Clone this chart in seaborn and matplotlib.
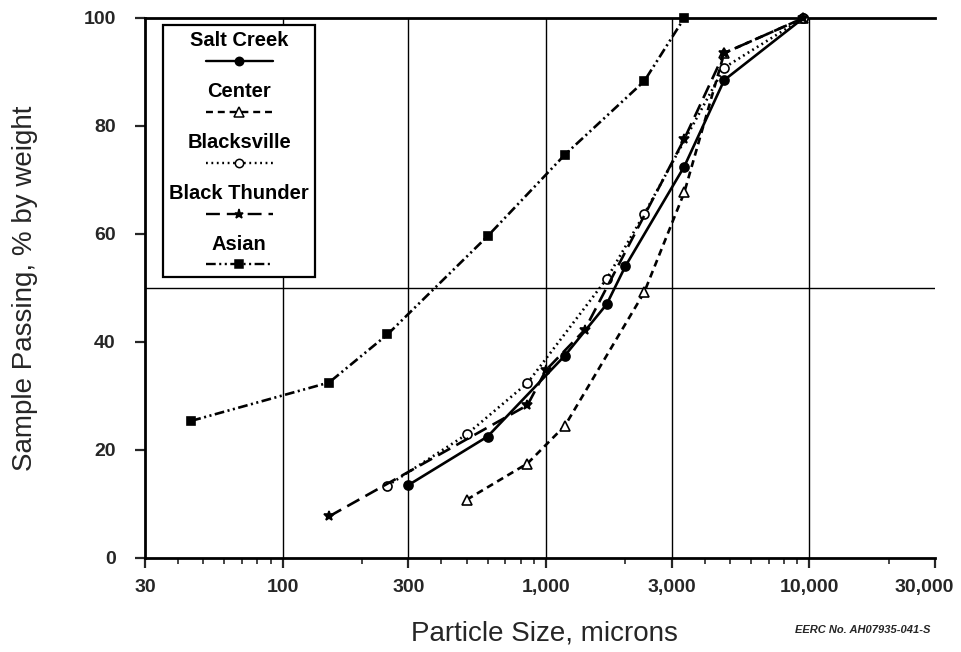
import matplotlib
matplotlib.use("Agg")
import matplotlib.pyplot as plt
import matplotlib.transforms as mtransforms
import seaborn as sns
from matplotlib.lines import Line2D
from matplotlib.offsetbox import AnchoredOffsetbox, VPacker, TextArea, DrawingArea
from matplotlib.ticker import FixedLocator, FixedFormatter, LogLocator, NullFormatter

# sieve sizes (microns) and cumulative % passing
salt_creek_size = [300, 600, 1180, 1700, 2000, 3350, 4750, 9500]
salt_creek_pass = [13.5, 22.5, 37.5, 47, 54, 72.5, 88.5, 100]

center_size = [500, 850, 1180, 2360, 3350, 4750, 9500]
center_pass = [10.8, 17.5, 24.5, 49.2, 67.7, 93.5, 100]

blacksville_size = [250, 500, 850, 1700, 2360, 4750, 9500]
blacksville_pass = [13.4, 22.9, 32.4, 51.7, 63.7, 90.8, 100]

black_thunder_size = [150, 850, 1000, 1400, 3350, 4750, 9500]
black_thunder_pass = [7.7, 28.3, 34.8, 42.2, 77.6, 93.5, 100]

asian_size = [45, 150, 250, 600, 1180, 2360, 3350]
asian_pass = [25.4, 32.5, 41.4, 59.6, 74.7, 88.3, 100]

x_ticks = [30, 100, 300, 1000, 3000, 10000, 30000]
x_tick_labels = ["30", "100", "300", "1,000", "3,000", "10,000", "30,000"]
y_ticks = [0, 20, 40, 60, 80, 100]

sns.set_style("ticks")
plt.rcParams["font.family"] = ["Liberation Sans", "DejaVu Sans"]
plt.rcParams["lines.scale_dashes"] = False

LW = 1.9
series = [
    ("Salt Creek", salt_creek_size, salt_creek_pass,
     dict(linestyle="-", marker="o", markerfacecolor="black", markersize=6.5)),
    ("Center", center_size, center_pass,
     dict(linestyle=(0, (5, 3.5)), marker="^", markerfacecolor="white", markersize=7)),
    ("Blacksville", blacksville_size, blacksville_pass,
     dict(linestyle=(0, (1.3, 2.6)), marker="o", markerfacecolor="white", markersize=6.5)),
    ("Black Thunder", black_thunder_size, black_thunder_pass,
     dict(linestyle=(0, (10, 5)), marker="*", markerfacecolor="black", markersize=7)),
    ("Asian", asian_size, asian_pass,
     dict(linestyle=(0, (7, 2.5, 1.5, 2.5, 1.5, 2.5)), marker="s", markerfacecolor="black", markersize=6)),
]

fig = plt.figure(figsize=(9.62, 6.52), dpi=100)
ax = fig.add_axes([145 / 962, 94 / 652, 790 / 962, 540 / 652])

# gridlines: verticals at the inner major ticks, one horizontal at 50 %
for xv in x_ticks[1:-1]:
    ax.axvline(xv, color="black", lw=1.0, zorder=1)
ax.axhline(50, color="black", lw=1.0, zorder=1)

for name, xs, ys, st in series:
    sns.lineplot(x=xs, y=ys, ax=ax, color="black", linewidth=LW,
                 markeredgecolor="black", markeredgewidth=1.2,
                 clip_on=False, zorder=3, **st)

ax.set_xscale("log")
ax.set_xlim(30, 30000)
ax.set_ylim(0, 100)

ax.xaxis.set_major_locator(FixedLocator(x_ticks))
ax.xaxis.set_major_formatter(FixedFormatter(x_tick_labels))
ax.xaxis.set_minor_locator(LogLocator(base=10, subs=range(2, 10)))
ax.xaxis.set_minor_formatter(NullFormatter())
ax.set_yticks(y_ticks)

ax.tick_params(axis="both", which="major", direction="out", length=7, width=1.6,
               labelsize=14)
ax.tick_params(axis="x", which="major", pad=8)
ax.tick_params(axis="y", which="major", pad=14)
ax.tick_params(axis="x", which="minor", direction="out", length=4, width=1.2)
for lab in ax.get_xticklabels() + ax.get_yticklabels():
    lab.set_fontweight("bold")
# last x label sits a little left so it stays inside the figure
last = ax.get_xticklabels()[-1]
last.set_transform(last.get_transform() +
                   mtransforms.ScaledTranslation(-8 / 72, 0, fig.dpi_scale_trans))

for side in ["left", "bottom", "top"]:
    ax.spines[side].set_linewidth(2.0)
    ax.spines[side].set_color("black")
ax.spines["right"].set_visible(False)

ax.set_xlabel("Particle Size, microns", fontsize=20)
ax.set_ylabel("Sample Passing, % by weight", fontsize=20)
ax.xaxis.set_label_coords(0.506, -0.115)
ax.yaxis.set_label_coords(-0.135, 0.5)

# legend: label text above a short line sample
entries = []
for name, xs, ys, st in series:
    text = TextArea(name, textprops=dict(fontsize=14.5, fontweight="bold", color="black"))
    da = DrawingArea(52, 9, 0, 0)
    da.add_artist(Line2D([2, 50], [4.5, 4.5], color="black", lw=LW - 0.2,
                         linestyle=st["linestyle"]))
    da.add_artist(Line2D([26], [4.5], color="black", marker=st["marker"],
                         markersize=st["markersize"] - 0.5,
                         markerfacecolor=st["markerfacecolor"],
                         markeredgecolor="black", markeredgewidth=1.1))
    entries.append(VPacker(children=[text, da], align="center", pad=0, sep=3))
legend_pack = VPacker(children=entries, align="center", pad=0, sep=11)
box = AnchoredOffsetbox(loc="upper left", child=legend_pack, pad=0.45, borderpad=0,
                        frameon=True, bbox_to_anchor=(0.023, 0.987),
                        bbox_transform=ax.transAxes)
box.patch.set_edgecolor("black")
box.patch.set_linewidth(1.6)
box.patch.set_boxstyle("square", pad=0)
box.zorder = 5
ax.add_artist(box)

fig.text(0.967, 0.034, "EERC No. AH07935-041-S", ha="right", va="center",
         fontsize=8, fontweight="bold", style="italic")

fig.savefig("out.png", dpi=100)
